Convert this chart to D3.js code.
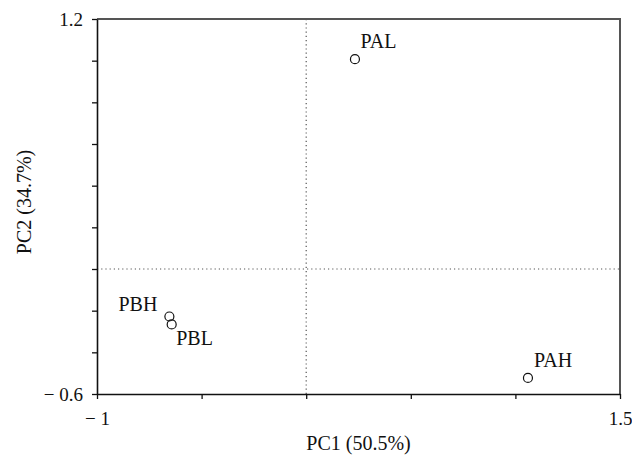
<!DOCTYPE html>
<html lang="en">
<head>
  <meta charset="UTF-8" />
  <title>PCA scores</title>
  <script src="https://cdn.jsdelivr.net/npm/d3@7"></script>
  <style>
    body { margin: 0; background: #fff; }
    text { font-family: "Liberation Serif", "DejaVu Serif", serif; fill: #111; }
  </style>
</head>
<body>
  <script>
    var names = ["PAL", "PBH", "PBL", "PAH"];
    var pc1 = [0.233, -0.654, -0.643, 1.060];
    var pc2 = [1.007, -0.228, -0.266, -0.523];

    var xTicks = [-1, -0.5, 0, 0.5, 1, 1.5];
    var yTicks = [-0.6, -0.4, -0.2, 0, 0.2, 0.4, 0.6, 0.8, 1.0, 1.2];
    var xTickLabels = ["\u2212 1", "", "", "", "", "1.5"];
    var yTickLabels = ["\u2212 0.6", "", "", "", "", "", "", "", "", "1.2"];

    var w = 632, h = 456;
    var plotL = 97, plotR = 620, plotT = 19, plotB = 394;

    var svg = d3.select("body").append("svg")
      .attr("width", w)
      .attr("height", h);

    var xScale = d3.scaleLinear().domain([-1, 1.5]).range([plotL, plotR]);
    var yScale = d3.scaleLinear().domain([-0.6, 1.2]).range([plotB, plotT]);

    // frame top/right in gray
    svg.append("path")
      .attr("d", "M" + plotL + "," + plotT + "H" + plotR + "V" + plotB)
      .attr("fill", "none")
      .attr("stroke", "#555")
      .attr("stroke-width", 2);

    // dotted zero lines
    svg.append("line")
      .attr("x1", xScale(0)).attr("x2", xScale(0))
      .attr("y1", plotT).attr("y2", plotB)
      .attr("stroke", "#555").attr("stroke-width", 1.2)
      .attr("stroke-dasharray", "1.2,3");
    svg.append("line")
      .attr("x1", plotL).attr("x2", plotR)
      .attr("y1", yScale(0)).attr("y2", yScale(0))
      .attr("stroke", "#555").attr("stroke-width", 1.2)
      .attr("stroke-dasharray", "1.2,3");

    var xAxis = d3.axisBottom(xScale)
      .tickValues(xTicks)
      .tickSize(5)
      .tickSizeOuter(0)
      .tickFormat(function(d, i) { return xTickLabels[i]; });

    var yAxis = d3.axisLeft(yScale)
      .tickValues(yTicks)
      .tickSize(5)
      .tickSizeOuter(0)
      .tickFormat(function(d, i) { return yTickLabels[i]; });

    var gx = svg.append("g")
      .attr("transform", "translate(0," + plotB + ")")
      .call(xAxis);
    var gy = svg.append("g")
      .attr("transform", "translate(" + plotL + ",0)")
      .call(yAxis);

    [gx, gy].forEach(function(g) {
      g.select(".domain").attr("stroke", "#111").attr("stroke-width", 1.6);
      g.selectAll(".tick line").attr("stroke", "#111").attr("stroke-width", 1.3);
      g.selectAll(".tick text")
        .attr("font-family", "Liberation Serif")
        .attr("font-size", 19)
        .attr("fill", "#111");
    });
    gx.selectAll(".tick text").attr("y", 18);
    gy.selectAll(".tick text").attr("x", -14);

    // points
    svg.selectAll("circle.pt")
      .data(names)
      .enter()
      .append("circle")
      .attr("class", "pt")
      .attr("cx", function(d, i) { return xScale(pc1[i]); })
      .attr("cy", function(d, i) { return yScale(pc2[i]); })
      .attr("r", 4.5)
      .attr("fill", "none")
      .attr("stroke", "#111")
      .attr("stroke-width", 1.2);

    // point labels
    var lab = { PAL: [5.5, -11.5, "start"], PAH: [6, -10.5, "start"],
                PBH: [-12, -5.5, "end"], PBL: [4.5, 21, "start"] };
    svg.selectAll("text.lbl")
      .data(names)
      .enter()
      .append("text")
      .attr("class", "lbl")
      .attr("x", function(d, i) { return xScale(pc1[i]) + lab[d][0]; })
      .attr("y", function(d, i) { return yScale(pc2[i]) + lab[d][1]; })
      .attr("text-anchor", function(d) { return lab[d][2]; })
      .attr("font-size", 20)
      .text(function(d) { return d; });

    // axis titles
    svg.append("text")
      .attr("x", (plotL + plotR) / 2)
      .attr("y", 450)
      .attr("text-anchor", "middle")
      .attr("font-size", 20)
      .text("PC1 (50.5%)");

    svg.append("text")
      .attr("transform", "translate(31," + 202 + ") rotate(-90)")
      .attr("text-anchor", "middle")
      .attr("font-size", 20)
      .text("PC2 (34.7%)");
  </script>
</body>
</html>
